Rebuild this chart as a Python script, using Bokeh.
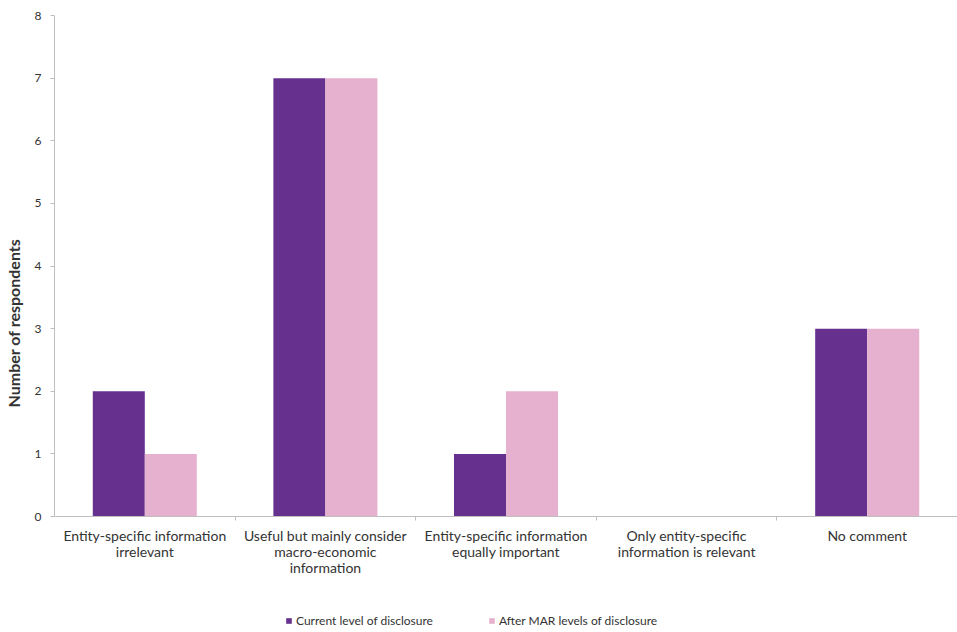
from bokeh.plotting import figure
from bokeh.models import ColumnDataSource, FixedTicker, Range1d, Legend, LegendItem
from bokeh.embed import file_html
from bokeh.resources import INLINE

categories = [
    "Entity-specific information\nirrelevant",
    "Useful but mainly consider\nmacro-economic\ninformation",
    "Entity-specific information\nequally important",
    "Only entity-specific\ninformation is relevant",
    "No comment",
]
current = [2, 7, 1, 0, 3]
after_mar = [1, 7, 2, 0, 3]
series_names = ["Current level of disclosure", "After MAR levels of disclosure"]
y_ticks = [0, 1, 2, 3, 4, 5, 6, 7, 8]

PURPLE = "#66308F"
PINK = "#E6B1CE"
FONT = "Lato"
TXT = "#333333"

centers = [i + 0.5 for i in range(len(categories))]
off = 0.144
bw = 0.288

src = ColumnDataSource(dict(
    xc=[c - off for c in centers],
    xa=[c + off for c in centers],
    cur=current,
    aft=after_mar,
))

# frame extends below zero so the category labels and legend sit inside it
p = figure(frame_width=903, frame_height=615, min_border_left=53, min_border_top=15,
           min_border_right=0, min_border_bottom=0,
           x_range=Range1d(0, len(categories)), y_range=Range1d(-1.82, 8),
           output_backend="svg", toolbar_location=None)

r1 = p.vbar(x="xc", top="cur", width=bw, source=src, fill_color=PURPLE, line_color=None)
r2 = p.vbar(x="xa", top="aft", width=bw, source=src, fill_color=PINK, line_color=None)

p.xgrid.visible = False
p.ygrid.visible = False
p.outline_line_color = None

xa = p.xaxis[0]
xa.fixed_location = 0
xa.ticker = FixedTicker(ticks=centers, minor_ticks=list(range(1, len(categories))))
xa.major_label_overrides = {c: lab for c, lab in zip(centers, categories)}
xa.major_tick_line_color = None
xa.minor_tick_line_color = "#bfbfbf"
xa.minor_tick_out = 4
xa.minor_tick_in = 0
xa.axis_line_color = "#bfbfbf"
xa.major_label_text_font = FONT
xa.major_label_text_font_size = "14px"
xa.major_label_text_line_height = 0.95
xa.major_label_text_color = TXT
xa.major_label_standoff = 4

ya = p.yaxis[0]
ya.bounds = (0, 8)
ya.ticker = FixedTicker(ticks=y_ticks)
ya.minor_tick_line_color = None
ya.major_tick_line_color = "#bfbfbf"
ya.major_tick_out = 4
ya.major_tick_in = 0
ya.axis_line_color = "#bfbfbf"
ya.major_label_text_font = FONT
ya.major_label_text_font_size = "12px"
ya.major_label_text_color = TXT
ya.major_label_standoff = 9
ya.axis_label = "Number of respondents"
ya.axis_label_text_font = FONT
ya.axis_label_text_font_size = "16px"
ya.axis_label_text_font_style = "bold"
ya.axis_label_text_color = TXT
ya.axis_label_standoff = 9

legend = Legend(items=[LegendItem(label=series_names[0], renderers=[r1]),
                       LegendItem(label=series_names[1], renderers=[r2])],
                orientation="horizontal", location=(231, 2),
                glyph_width=7, glyph_height=7, label_standoff=4, spacing=55,
                padding=2, margin=0, border_line_color=None, background_fill_alpha=0,
                label_text_font=FONT, label_text_font_size="12px", label_text_color=TXT)
p.add_layout(legend, "center")

open("out.html", "w").write(file_html(p, INLINE))
